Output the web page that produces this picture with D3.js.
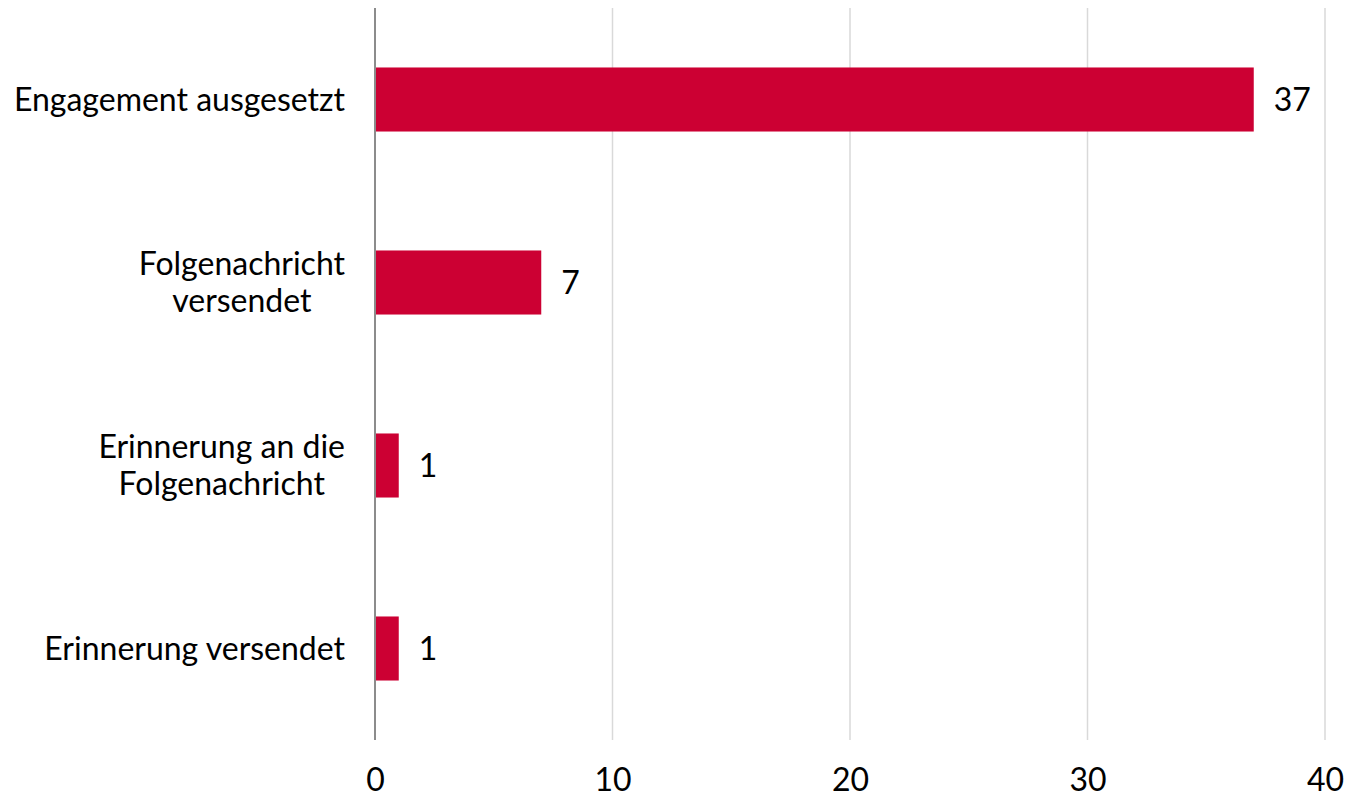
<!DOCTYPE html>
<html>
<head>
<meta charset="utf-8">
<script src="https://cdn.jsdelivr.net/npm/d3@7"></script>
<style>
  body { margin: 0; background: #fff; }
  text { font-family: Lato, "Open Sans", sans-serif; fill: #000; }
</style>
</head>
<body>
<svg id="chart" width="1350" height="802"></svg>
<script>
const categories = [
  ["Engagement ausgesetzt"],
  ["Folgenachricht", "versendet"],
  ["Erinnerung an die", "Folgenachricht"],
  ["Erinnerung versendet"]
];
const values = [37, 7, 1, 1];
const xTicks = [0, 10, 20, 30, 40];

const margin = { top: 8, right: 25, bottom: 62, left: 375 };
const width = 1350 - margin.left - margin.right;
const height = 802 - margin.top - margin.bottom;
const fontSize = "32px";

const svg = d3.select("#chart");
const g = svg.append("g").attr("transform", `translate(${margin.left},${margin.top})`);

const x = d3.scaleLinear().domain([0, 40]).range([0, width]);
const y = d3.scaleBand().domain(d3.range(categories.length)).range([0, height]).paddingInner(0.65).paddingOuter(0.325);

// gridlines
g.append("g").selectAll("line").data(xTicks.filter(d => d > 0)).join("line")
  .attr("x1", d => x(d)).attr("x2", d => x(d))
  .attr("y1", 0).attr("y2", height)
  .attr("stroke", "#d9d9d9").attr("stroke-width", 1.5);

// x tick labels
const xAxis = g.append("g")
  .attr("transform", `translate(0,${height})`)
  .call(d3.axisBottom(x).tickValues(xTicks).tickSize(0).tickPadding(28).tickFormat(d3.format("d")));
xAxis.select(".domain").remove();
xAxis.selectAll("text").style("font-size", fontSize).style("font-family", "Lato, sans-serif");

// bars
g.selectAll("rect.bar").data(values).join("rect")
  .attr("class", "bar")
  .attr("x", x(0))
  .attr("y", (d, i) => y(i))
  .attr("width", d => x(d) - x(0))
  .attr("height", y.bandwidth())
  .attr("fill", "#cc0033");

// value labels
g.selectAll("text.val").data(values).join("text")
  .attr("class", "val")
  .attr("x", d => x(d) + 20)
  .attr("y", (d, i) => y(i) + y.bandwidth() / 2)
  .attr("dy", "0.35em")
  .style("font-size", fontSize)
  .text(d => d);

// y axis line
g.append("line")
  .attr("x1", 0).attr("x2", 0).attr("y1", 0).attr("y2", height)
  .attr("stroke", "#8c8c8c").attr("stroke-width", 2);

// category labels (wrapped lines centred within a right-aligned block)
const lineH = 37;
categories.forEach((lines, i) => {
  const cy = y(i) + y.bandwidth() / 2;
  const t = g.append("text").style("font-size", fontSize).attr("text-anchor", "middle");
  lines.forEach((ln, j) => {
    t.append("tspan").text(ln)
      .attr("y", cy + (j - (lines.length - 1) / 2) * lineH)
      .attr("dy", "0.35em");
  });
  const maxW = d3.max(t.selectAll("tspan").nodes(), n => n.getComputedTextLength());
  t.selectAll("tspan").attr("x", -30 - maxW / 2);
});
</script>
</body>
</html>
